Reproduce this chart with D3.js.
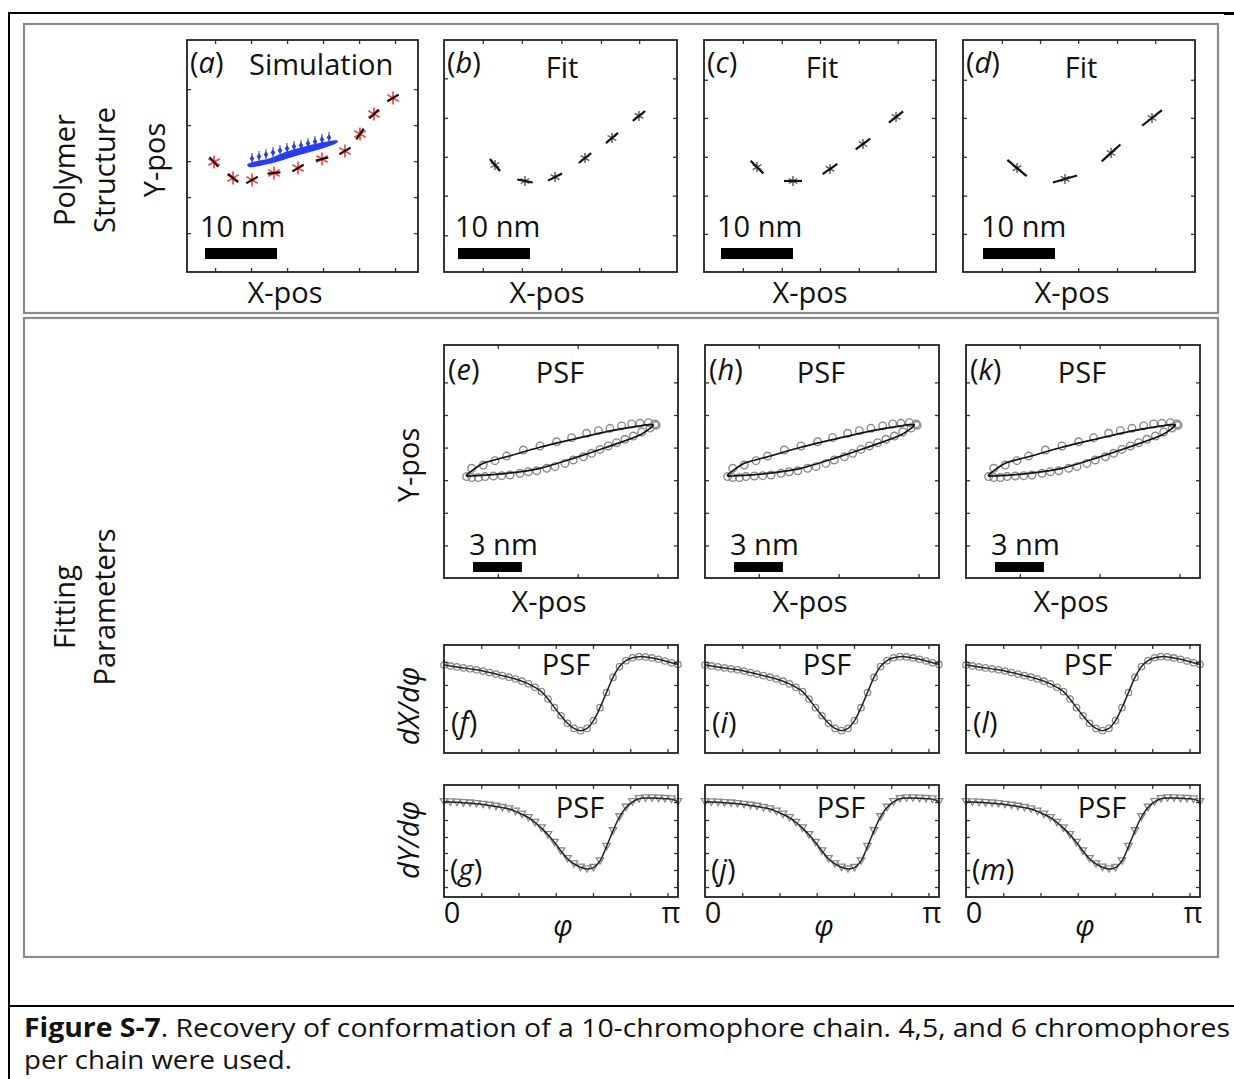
<!DOCTYPE html>
<html><head><meta charset="utf-8">
<script src="https://cdn.jsdelivr.net/npm/d3@7"></script>
<style>body{margin:0;background:#fff}svg text{font-family:'Open Sans','Noto Sans',sans-serif;fill:#111}</style>
</head><body><svg id="c" width="1234" height="1079"></svg>
<script>
// ---------------- DATA ----------------
// (a) simulated 10-chromophore chain (nm) and dipole angles (deg)
const simX = [3.75, 6.39, 9.03, 12.08, 15.42, 18.75, 21.94, 24.03, 25.97, 28.61];
const simY = [15.28, 13.06, 12.78, 13.75, 14.44, 15.69, 16.81, 19.17, 21.94, 24.17];
const simAngle = [-47, -39, 29, 6, 31, 14, 31, 55, 43, 31];
// blue excitation ellipse and arrows in (a)
const blueUpper = [[8.47,14.86],[9.03,15.14],[11.53,15.69],[13.61,16.53],[15.97,17.22],[18.19,17.78],[20.56,18.2]];
const blueLower = [[20.56,17.92],[18.19,17.08],[15.69,16.39],[13.61,15.75],[11.25,15.1],[9.03,14.65]];
const arrowX = [9.03, 10.0, 10.97, 11.94, 12.92, 13.89, 14.86, 15.83, 16.81, 17.78, 18.75, 19.72];
const arrowY = [15.14, 15.42, 15.69, 15.97, 16.25, 16.53, 16.81, 16.94, 17.22, 17.5, 17.78, 18.06];
// (b) 6, (c) 5, (d) 4 chromophore fits
const fit6X = [7.08, 11.25, 15.42, 19.58, 23.33, 27.08];
const fit6Y = [14.86, 12.64, 13.19, 15.83, 18.61, 21.67];
const fit6Angle = [-50, -11, 27, 39, 40, 39];
const fit5X = [7.36, 12.36, 17.5, 22.08, 26.67];
const fit5Y = [14.58, 12.64, 14.31, 17.78, 21.53];
const fit5Angle = [-45, 0, 35, 36, 38];
const fit4X = [7.5, 14.17, 20.56, 26.25];
const fit4Y = [14.44, 12.92, 16.53, 21.39];
const fit4Angle = [-40, 16, 42, 38];
// tick values (nm)
const ticksA = {x:[3.9,8.9,13.9,18.9,23.9,28.9], y:[5.4,10.4,15.4,20.4,25.4]};
const ticksB = {x:[5.4,10.8,16.3,21.8,27.1], y:[5.1,10.6,16.0,21.4,26.9]};
const ticksC = {x:[5.4,10.8,16.1,21.5,26.9], y:[5.3,10.6,16.0,21.4,26.7]};
const ticksD = {x:[5.4,10.7,16.0,21.4,26.7], y:[5.3,10.6,16.0,21.4,26.7]};
// PSF ellipse (nm): fit line and data circles
const psfFitUpper = [[1.39,6.32],[2.41,7.04],[3.85,7.44],[5.89,8.02],[7.93,8.51],[9.98,8.98],[12.02,9.33],[12.84,9.39]];
const psfFitLower = [[12.02,8.77],[9.98,8.02],[7.93,7.34],[5.89,6.73],[3.85,6.42],[1.80,6.26]];
const psfDataX = [1.70,2.41,3.13,3.84,4.87,5.89,6.91,7.83,8.75,9.47,10.18,10.90,11.51,12.02,12.54,12.94,
                  1.39,1.70,2.11,2.52,3.03,3.54,4.05,4.66,5.17,5.69,6.30,6.81,7.42,7.93,8.55,9.06,9.57,10.08,10.59,11.10,11.62,12.13,12.64,13.01];
const psfDataY = [6.73,6.93,7.20,7.48,7.85,8.10,8.36,8.61,8.88,9.04,9.18,9.33,9.45,9.49,9.53,9.45,
                  6.22,6.16,6.16,6.22,6.26,6.28,6.32,6.42,6.52,6.58,6.73,6.83,7.03,7.24,7.44,7.65,7.89,8.10,8.30,8.51,8.71,8.96,9.20,9.37];
const psfTicks = {x:[3.3,8.2,13.1], y:[2,4,6,8,10,12]};
// derivative curves vs phi
const phiDeg = [0,5,10,15,20,25,30,35,40,45,50,55,60,65,70,75,80,85,90,95,100,105,110,115,120,125,130,135,140,145,150,155,160,165,170,175,180];
const dXdphi = [0.815,0.806,0.797,0.788,0.779,0.770,0.759,0.745,0.731,0.716,0.702,0.685,0.665,0.640,0.608,0.568,0.50,0.42,0.345,0.275,0.228,0.207,0.228,0.30,0.42,0.56,0.70,0.80,0.855,0.882,0.892,0.89,0.88,0.868,0.852,0.835,0.82];
const dYdphi = [0.851,0.848,0.845,0.841,0.838,0.833,0.826,0.818,0.809,0.798,0.786,0.765,0.738,0.708,0.665,0.615,0.555,0.487,0.41,0.342,0.295,0.265,0.250,0.262,0.322,0.45,0.59,0.715,0.80,0.850,0.877,0.884,0.884,0.881,0.878,0.874,0.851];
const phiTicks = [0.5,1.0,1.5,2.0,2.5,3.0];
const dXTicks = [0.213,0.426,0.63,0.843];
const dYTicks = [0.089,0.241,0.393,0.536,0.6875,0.848];
const rowLettersE = ['e','h','k'], rowLettersF = ['f','i','l'], rowLettersG = ['g','j','m'];

// ---------------- DRAWING ----------------
const svg = d3.select('#c');
const FS = 29;

function scales(b, xd, yd){
  return {x:d3.scaleLinear().domain(xd).range([b.x0,b.x1]), y:d3.scaleLinear().domain(yd).range([b.y1,b.y0])};
}
function frame(b, s, xt, yt){
  const defs = [[d3.axisBottom(s.x),`translate(0,${b.y1})`,xt],[d3.axisTop(s.x),`translate(0,${b.y0})`,xt],
                [d3.axisLeft(s.y),`translate(${b.x0},0)`,yt],[d3.axisRight(s.y),`translate(${b.x1},0)`,yt]];
  defs.forEach(([ax,tr,tv])=>{
    const g = svg.append('g').attr('transform',tr)
      .call(ax.tickValues(tv).tickSizeInner(-4).tickSizeOuter(0).tickFormat(''));
    g.select('.domain').remove();
    g.selectAll('line').attr('stroke','#333').attr('stroke-width',1.3);
  });
  svg.append('rect').attr('x',b.x0).attr('y',b.y0).attr('width',b.x1-b.x0).attr('height',b.y1-b.y0)
    .attr('fill','none').attr('stroke','#222').attr('stroke-width',1.8);
}
function label(x, y, letter){
  const t = svg.append('text').attr('x',x).attr('y',y).attr('font-size',FS);
  t.append('tspan').text('(');
  t.append('tspan').attr('font-style','italic').text(letter);
  t.append('tspan').text(')');
}
function txt(x,y,s,anchor,opts={}){
  const t = svg.append('text').attr('x',x).attr('y',y).attr('font-size',opts.fs||FS).attr('text-anchor',anchor||'start').text(s);
  if(opts.italic) t.attr('font-style','italic');
  if(opts.rot!==undefined) t.attr('transform',`rotate(${opts.rot},${x},${y})`).attr('dominant-baseline','central');
  return t;
}

// outer frame lines
svg.append('line').attr('x1',9).attr('x2',1234).attr('y1',13).attr('y2',13).attr('stroke','#000').attr('stroke-width',2);
svg.append('rect').attr('x',1224).attr('y',12).attr('width',10).attr('height',3).attr('fill','#000');
svg.append('line').attr('x1',9).attr('x2',9).attr('y1',12).attr('y2',1079).attr('stroke','#000').attr('stroke-width',2);
svg.append('line').attr('x1',9).attr('x2',1234).attr('y1',1006).attr('y2',1006).attr('stroke','#000').attr('stroke-width',2);
// gray group boxes
svg.append('rect').attr('x',24).attr('y',24).attr('width',1194).attr('height',289).attr('fill','none').attr('stroke','#8a8a8a').attr('stroke-width',2.2);
svg.append('rect').attr('x',24).attr('y',318).attr('width',1194).attr('height',639).attr('fill','none').attr('stroke','#8a8a8a').attr('stroke-width',2.2);

// side labels
txt(63,170,'Polymer','middle',{rot:-90});
txt(103,170,'Structure','middle',{rot:-90});
txt(153,160,'Y-pos','middle',{rot:-90});
txt(63,607,'Fitting','middle',{rot:-90});
txt(103,607,'Parameters','middle',{rot:-90});
txt(407,465,'Y-pos','middle',{rot:-90});
txt(407,706,'dX/dφ','middle',{rot:-90,italic:true});
txt(407,840,'dY/dφ','middle',{rot:-90,italic:true});

// --------- row 1: polymer structure ----------
const row1 = [
  {b:{x0:187,x1:418,y0:40,y1:272}, letter:'a', title:'Simulation', ticks:ticksA},
  {b:{x0:444,x1:677,y0:40,y1:272}, letter:'b', title:'Fit', X:fit6X, Y:fit6Y, A:fit6Angle, L:2.2, ticks:ticksB, sb:1.94},
  {b:{x0:704,x1:936,y0:40,y1:272}, letter:'c', title:'Fit', X:fit5X, Y:fit5Y, A:fit5Angle, L:2.5, ticks:ticksC, sb:2.36},
  {b:{x0:963,x1:1195,y0:40,y1:272}, letter:'d', title:'Fit', X:fit4X, Y:fit4Y, A:fit4Angle, L:3.5, ticks:ticksD, sb:2.78}
];
const sbOff = [13,11,13,18], xpOff=[98,103,106,109];
row1.forEach((p,i)=>{
  const b = p.b;
  const s = scales(b,[0,(b.x1-b.x0)/7.2],[0,(b.y1-b.y0)/7.2]);
  const seg = (x,y,a,L)=>{const r=a*Math.PI/180;return [[x-L/2*Math.cos(r),y-L/2*Math.sin(r)],[x+L/2*Math.cos(r),y+L/2*Math.sin(r)]];};
  if(i===0){
    // red asterisks
    svg.append('g').selectAll('path').data(simX).join('path')
      .attr('transform',(d,k)=>`translate(${s.x(d)},${s.y(simY[k])})`)
      .attr('d',d3.symbol(d3.symbolAsterisk,120)).attr('stroke','#f04848').attr('stroke-width',1.7).attr('fill','none');
    svg.append('g').selectAll('line').data(simX).join('line')
      .each(function(d,k){const e=seg(d,simY[k],simAngle[k],1.8);
        d3.select(this).attr('x1',s.x(e[0][0])).attr('y1',s.y(e[0][1])).attr('x2',s.x(e[1][0])).attr('y2',s.y(e[1][1]));})
      .attr('stroke','#111').attr('stroke-width',2.2);
    // arrows
    const ag = svg.append('g');
    arrowX.forEach((ax,k)=>{
      const px=s.x(ax), py=s.y(arrowY[k]);
      ag.append('line').attr('x1',px).attr('x2',px).attr('y1',py-10).attr('y2',py).attr('stroke','#444').attr('stroke-width',1);
      ag.append('path').attr('d',`M${px},${py-8}L${px+2.3},${py-4.5}L${px},${py-1}L${px-2.3},${py-4.5}Z`).attr('fill','#2a3cf0');
    });
    // blue ellipse
    const line = d3.line().x(d=>s.x(d[0])).y(d=>s.y(d[1])).curve(d3.curveCardinalClosed);
    svg.append('path').attr('d',line(blueUpper.concat(blueLower))).attr('fill','#2a3cf0').attr('stroke','#2a3cf0').attr('stroke-width',1.6);
  } else {
    svg.append('g').selectAll('path').data(p.X).join('path')
      .attr('transform',(d,k)=>`translate(${s.x(d)},${s.y(p.Y[k])})`)
      .attr('d',d3.symbol(d3.symbolAsterisk,70)).attr('stroke','#555').attr('stroke-width',1.4).attr('fill','none');
    svg.append('g').selectAll('line').data(p.X).join('line')
      .each(function(d,k){const e=seg(d,p.Y[k],p.A[k],p.L);
        d3.select(this).attr('x1',s.x(e[0][0])).attr('y1',s.y(e[0][1])).attr('x2',s.x(e[1][0])).attr('y2',s.y(e[1][1]));})
      .attr('stroke','#111').attr('stroke-width',2.2);
  }
  // scale bar 10 nm
  const sb0 = i===0 ? 2.5 : p.sb;
  svg.append('rect').attr('x',s.x(sb0)).attr('width',s.x(sb0+10)-s.x(sb0)).attr('y',s.y(3.33)).attr('height',s.y(1.8)-s.y(3.33)).attr('fill','#000');
  txt(b.x0+sbOff[i],237,'10 nm','start');
  frame(b,s,p.ticks.x,p.ticks.y);
  label(b.x0+3,73,p.letter);
  if(i===0) txt(b.x0+62,75,p.title,'start');
  else txt(b.x0+118,78,p.title,'middle');
  txt(b.x0+xpOff[i],303,'X-pos','middle');
});

// --------- rows e/f/g ----------
const cols = [{x0:444,x1:678},{x0:705,x1:939},{x0:966,x1:1200}];
cols.forEach((c,i)=>{
  // PSF ellipse
  const be = {x0:c.x0,x1:c.x1,y0:345,y1:578};
  const s = scales(be,[0,(be.x1-be.x0)/16.3],[0,(be.y1-be.y0)/16.3]);
  svg.append('g').selectAll('circle').data(psfDataX).join('circle')
    .attr('cx',d=>s.x(d)).attr('cy',(d,k)=>s.y(psfDataY[k])).attr('r',3.8)
    .attr('fill','none').attr('stroke','#8a8a8a').attr('stroke-width',1.4);
  const line = d3.line().x(d=>s.x(d[0])).y(d=>s.y(d[1])).curve(d3.curveCardinalClosed.tension(0.3));
  svg.append('path').attr('d',line(psfFitUpper.concat(psfFitLower))).attr('fill','none').attr('stroke','#111').attr('stroke-width',1.7);
  svg.append('rect').attr('x',s.x(1.78)).attr('width',s.x(4.78)-s.x(1.78)).attr('y',s.y(0.98)).attr('height',s.y(0.37)-s.y(0.98)).attr('fill','#000');
  frame(be,s,psfTicks.x,psfTicks.y);
  label(c.x0+4,380,rowLettersE[i]);
  txt(c.x0+116,383,'PSF','middle');
  txt(c.x0+25,555,'3 nm','start');
  txt(c.x0+105,612,'X-pos','middle');

  // dX/dphi
  const bf = {x0:c.x0,x1:c.x1,y0:645,y1:753};
  const sf = scales(bf,[0,Math.PI],[0,1]);
  const phi = phiDeg.map(d=>d*Math.PI/180);
  const lf = d3.line().x((d,k)=>sf.x(phi[k])).y(d=>sf.y(d)).curve(d3.curveCatmullRom);
  svg.append('g').selectAll('circle').data(dXdphi).join('circle')
    .attr('cx',(d,k)=>sf.x(phi[k])).attr('cy',d=>sf.y(d)).attr('r',3.2)
    .attr('fill','none').attr('stroke','#8a8a8a').attr('stroke-width',1.3);
  svg.append('path').attr('d',lf(dXdphi)).attr('fill','none').attr('stroke','#222').attr('stroke-width',1.5);
  frame(bf,sf,phiTicks,dXTicks);
  txt(c.x0+122,675,'PSF','middle');
  label(c.x0+7,733,rowLettersF[i]);

  // dY/dphi
  const bg = {x0:c.x0,x1:c.x1,y0:785,y1:897};
  const sg = scales(bg,[0,Math.PI],[0,1]);
  const lg = d3.line().x((d,k)=>sg.x(phi[k])).y(d=>sg.y(d)).curve(d3.curveCatmullRom);
  svg.append('g').selectAll('path').data(dYdphi).join('path')
    .attr('transform',(d,k)=>`translate(${sg.x(phi[k])},${sg.y(d)-1}) rotate(180)`)
    .attr('d',d3.symbol(d3.symbolTriangle,24)).attr('fill','none').attr('stroke','#8a8a8a').attr('stroke-width',1.3);
  svg.append('path').attr('d',lg(dYdphi)).attr('fill','none').attr('stroke','#222').attr('stroke-width',1.5);
  frame(bg,sg,phiTicks,dYTicks);
  txt(c.x0+136,818,'PSF','middle');
  label(c.x0+6,880,rowLettersG[i]);
  txt(sg.x(0)+8,923,'0','middle');
  txt(sg.x(Math.PI)-7,923,'π','middle');
  txt(c.x0+119,936,'φ','middle',{italic:true});
});

// caption
const cap = svg.append('text').attr('x',24).attr('y',1037).attr('font-size',26).attr('textLength',1206).attr('lengthAdjust','spacingAndGlyphs');
cap.append('tspan').attr('font-weight','bold').text('Figure S-7');
cap.append('tspan').text('. Recovery of conformation of a 10-chromophore chain. 4,5, and 6 chromophores');
svg.append('text').attr('x',24).attr('y',1069).attr('font-size',25).attr('textLength',268).attr('lengthAdjust','spacingAndGlyphs').text('per chain were used.');
</script></body></html>
